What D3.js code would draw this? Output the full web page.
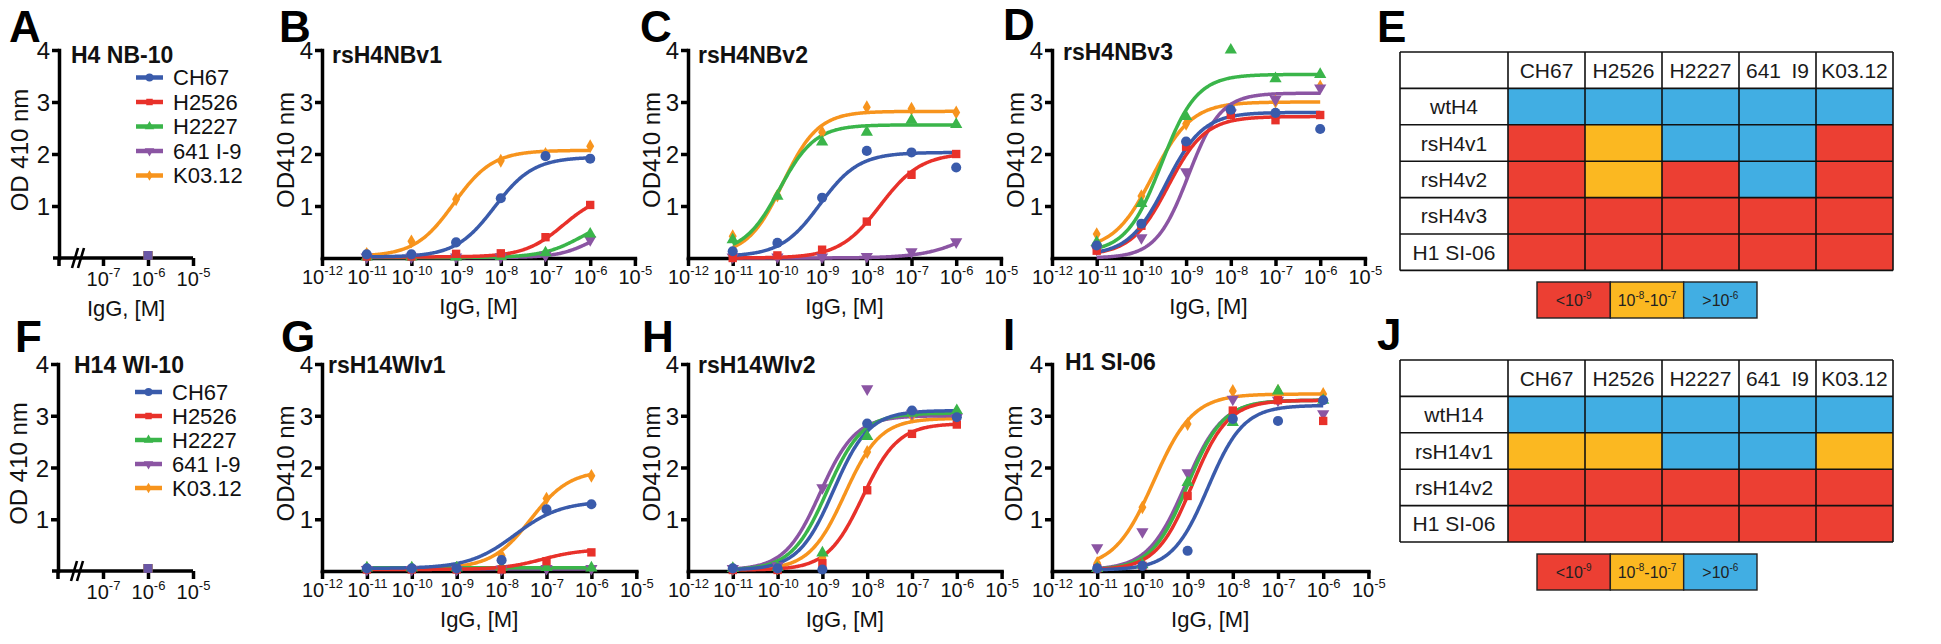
<!DOCTYPE html>
<html><head><meta charset="utf-8">
<script src="https://cdn.jsdelivr.net/npm/d3@7"></script>
<style>
body{margin:0;background:#fff;}
svg{font-family:"Liberation Sans", Arial, Helvetica, sans-serif;}
</style></head><body>
<svg id="chart" width="1941" height="644"></svg>
<script>
// ---------------- DATA ----------------
const antibodies = ["CH67", "H2526", "H2227", "641 I-9", "K03.12"];
const seriesColors = ["#3a5bab", "#e8312a", "#3ab54a", "#8b55a3", "#f7941d"];
const seriesShapes = ["circle", "square", "triangle", "triangleDown", "diamond"];
const logConc = [-11, -10, -9, -8, -7, -6];
const xTickExps = [-12, -11, -10, -9, -8, -7, -6, -5];
const wtTickExps = [-7, -6, -5];
const yTickValues = [1, 2, 3, 4];

// wild-type panels (single concentration 10^-6)
const wtConc = [-6];
const H4NB10_points = [[0.05], [0.05], [0.05], [0.05], [0.05]];
const H14WI10_points = [[0.05], [0.05], [0.05], [0.05], [0.05]];

// OD410 points, rows = antibodies, columns = logConc
const rsH4NBv1_points = [
  [0.07, 0.07, 0.30, 1.15, 1.96, 1.91],
  [0.03, 0.03, 0.08, 0.09, 0.40, 1.02],
  [0.02, 0.02, 0.02, 0.03, 0.10, 0.46],
  [0.02, 0.02, 0.02, 0.02, 0.05, 0.35],
  [0.08, 0.32, 1.13, 1.87, 2.00, 2.15]];
const rsH4NBv2_points = [
  [0.13, 0.29, 1.16, 2.06, 2.03, 1.74],
  [0.00, 0.05, 0.16, 0.70, 1.60, 2.00],
  [0.35, 1.19, 2.23, 2.42, 2.65, 2.57],
  [0.02, 0.02, 0.02, 0.03, 0.12, 0.31],
  [0.42, 1.20, 2.42, 2.90, 2.87, 2.80]];
const rsH4NBv3_points = [
  [0.24, 0.66, 2.24, 2.85, 2.79, 2.48],
  [0.14, 0.62, 2.14, 2.75, 2.65, 2.75],
  [0.30, 1.05, 2.72, 4.00, 3.45, 3.53],
  [0.17, 0.39, 1.66, 2.79, 3.05, 3.27],
  [0.46, 1.19, 2.58, 2.78, 3.01, 3.30]];
const rsH14WIv1_points = [
  [0.05, 0.05, 0.05, 0.21, 1.19, 1.29],
  [0.03, 0.03, 0.03, 0.03, 0.19, 0.36],
  [0.06, 0.06, 0.06, 0.07, 0.07, 0.06],
  [0.03, 0.03, 0.03, 0.04, 0.05, 0.05],
  [0.05, 0.05, 0.05, 0.30, 1.40, 1.84]];
const rsH14WIv2_points = [
  [0.05, 0.05, 0.03, 2.85, 3.10, 2.97],
  [0.02, 0.02, 0.15, 1.56, 2.65, 2.83],
  [0.05, 0.07, 0.35, 2.60, 3.05, 3.10],
  [0.05, 0.10, 1.61, 3.52, 3.05, 2.97],
  [0.04, 0.05, 0.25, 2.30, 3.00, 3.00]];
const H1SI06_points = [
  [0.05, 0.10, 0.39, 2.94, 2.90, 3.30],
  [0.05, 0.10, 1.45, 3.10, 3.30, 2.90],
  [0.05, 0.12, 1.71, 2.87, 3.48, 3.30],
  [0.45, 0.76, 1.90, 3.32, 3.30, 3.04],
  [0.15, 1.23, 2.84, 3.48, 3.48, 3.42]];

// fitted 4-parameter curves: [bottom, top, logEC50, hill]
const rsH4NBv1_fit = [[0.02, 1.94, -8.14, 1.0], [0.02, 1.25, -6.6, 1.0], [0.01, 0.8, -6.2, 1.0], [0.01, 0.6, -6.0, 1.2], [0.03, 2.07, -9.05, 1.0]];
const rsH4NBv2_fit = [[0.03, 2.03, -9.05, 1.0], [0.0, 2.02, -7.7, 0.95], [0.1, 2.56, -9.95, 1.1], [0.0, 1.0, -5.5, 0.8], [0.05, 2.82, -9.88, 1.1]];
const rsH4NBv3_fit = [[0.05, 2.8, -9.45, 1.05], [0.05, 2.72, -9.4, 1.05], [0.1, 3.53, -9.55, 1.1], [0.0, 3.17, -8.95, 1.2], [0.15, 3.0, -9.75, 1.0]];
const rsH14WIv1_fit = [[0.05, 1.35, -7.7, 0.85], [0.03, 0.42, -7.1, 1.0], [0.065, 0.065, -8, 1.0], [0.04, 0.04, -8, 1.0], [0.05, 1.95, -7.35, 1.0]];
const rsH14WIv2_fit = [[0.02, 3.1, -8.75, 1.1], [0.02, 2.85, -8.1, 1.1], [0.02, 3.05, -8.9, 1.1], [0.02, 3.0, -9.05, 1.1], [0.02, 2.95, -8.5, 1.1]];
const H1SI06_fit = [[0.02, 3.2, -8.55, 1.1], [0.02, 3.3, -8.9, 1.1], [0.02, 3.3, -9.0, 1.1], [0.02, 3.3, -9.05, 1.05], [0.05, 3.42, -9.75, 1.0]];

// summary tables
const tableColumns = ["CH67", "H2526", "H2227", "641\u2002I9", "K03.12"];
const tableE_rows = ["wtH4", "rsH4v1", "rsH4v2", "rsH4v3", "H1 SI-06"];
const tableE_class = [[2, 2, 2, 2, 2], [0, 1, 2, 2, 0], [0, 1, 0, 2, 0], [0, 0, 0, 0, 0], [0, 0, 0, 0, 0]];
const tableJ_rows = ["wtH14", "rsH14v1", "rsH14v2", "H1 SI-06"];
const tableJ_class = [[2, 2, 2, 2, 2], [1, 1, 2, 2, 1], [0, 0, 0, 0, 0], [0, 0, 0, 0, 0]];
const keyColors = ["#ec3f33", "#fbb821", "#41aee3"];
const keyLabels = [[["<10", 0], ["-9", 1]], [["10", 0], ["-8", 1], ["-10", 0], ["-7", 1]], [[">10", 0], ["-6", 1]]];

// ---------------- DRAWING ----------------
const svg = d3.select("#chart");
const AXW = 3.5;
const symTypes = {circle: d3.symbolCircle, square: d3.symbolSquare, triangle: d3.symbolTriangle, triangleDown: d3.symbolTriangle, diamond: d3.symbolDiamond};
const symSize = {circle: 80, square: 70, triangle: 65, triangleDown: 65, diamond: 55};

function marker(g, i, cx, cy, scale) {
  const shape = seriesShapes[i];
  g.append("path")
    .attr("d", d3.symbol().type(symTypes[shape]).size(symSize[shape] * (scale || 1))())
    .attr("transform", `translate(${cx},${cy})` + (shape === "triangleDown" ? " rotate(180)" : ""))
    .attr("fill", seriesColors[i]);
}

function styleAxis(sel, fontSize) {
  sel.attr("font-size", null).attr("font-family", null);
  sel.selectAll("path.domain").attr("stroke", "#000").attr("stroke-width", AXW).attr("stroke-linecap", "square");
  sel.selectAll(".tick line").attr("stroke", "#000").attr("stroke-width", AXW);
  sel.selectAll(".tick text").attr("fill", "#111").style("font-size", fontSize + "px");
}

function powLabels(sel, yOff) {
  sel.selectAll(".tick").each(function (d) {
    const t = d3.select(this).append("text").attr("y", yOff).attr("text-anchor", "middle").attr("fill", "#111");
    t.append("tspan").text("10").style("font-size", "20px");
    t.append("tspan").text(String(Math.round(Math.log10(d)))).attr("dy", -9).style("font-size", "13px");
  });
}

function yAxisDraw(g, cfg, y) {
  const ya = g.append("g").attr("transform", `translate(${cfg.axisX},0)`)
    .call(d3.axisLeft(y).tickValues(yTickValues).tickSize(7).tickSizeOuter(0).tickPadding(2).tickFormat(d3.format("d")));
  styleAxis(ya, 24);
  ya.selectAll(".tick text").attr("dy", "0.36em");
  g.append("text").attr("transform", `translate(${cfg.axisX + cfg.ylabOff},${(cfg.yBase + cfg.yTop) / 2 - 4}) rotate(-90)`)
    .attr("text-anchor", "middle").style("font-size", "24px").attr("fill", "#111").text(cfg.ylabel);
}

function labels(g, cfg) {
  g.append("text").attr("x", cfg.letterX).attr("y", cfg.letterY).style("font-size", "44px").style("font-weight", "bold").text(cfg.letter);
  g.append("text").attr("x", cfg.titleX).attr("y", cfg.titleY).style("font-size", "23px").style("font-weight", "bold").attr("fill", "#111").text(cfg.title);
}

function curvePanel(cfg) {
  const g = svg.append("g");
  const x = d3.scaleLog().domain([1e-12, 1e-5]).range([cfg.axisX, cfg.axisX + 7 * cfg.decade]);
  const y = d3.scaleLinear().domain([0, 4]).range([cfg.yBase, cfg.yTop]);
  const xa = g.append("g").attr("transform", `translate(0,${cfg.yBase})`)
    .call(d3.axisBottom(x).tickValues(xTickExps.map(e => Math.pow(10, e))).tickSize(8).tickSizeOuter(0).tickFormat(""));
  styleAxis(xa, 20);
  powLabels(xa, 26);
  yAxisDraw(g, cfg, y);
  if (cfg.xlabel) g.append("text").attr("x", (x.range()[0] + x.range()[1]) / 2).attr("y", cfg.yBase + 56)
    .attr("text-anchor", "middle").style("font-size", "22px").attr("fill", "#111").text("IgG, [M]");
  labels(g, cfg);
  const samples = d3.range(logConc[0], logConc[logConc.length - 1] + 0.001, 0.02);
  const order = [4, 3, 2, 1, 0];
  order.forEach(i => {
    const [b, t, ec, h] = cfg.fits[i];
    const line = d3.line().x(e => x(Math.pow(10, e))).y(e => y(b + (t - b) / (1 + Math.pow(10, h * (ec - e))))).curve(d3.curveLinear);
    g.append("path").attr("d", line(samples)).attr("fill", "none").attr("stroke", seriesColors[i]).attr("stroke-width", 3.5);
  });
  order.forEach(i => {
    cfg.points[i].forEach((v, k) => marker(g, i, x(Math.pow(10, logConc[k])), y(v)));
  });
}

function wtPanel(cfg) {
  const g = svg.append("g");
  const x = d3.scaleLog().domain([1e-7, 1e-5]).range([cfg.x7, cfg.x7 + 2 * cfg.decade]);
  const y = d3.scaleLinear().domain([0, 4]).range([cfg.yBase, cfg.yTop]);
  g.append("line").attr("x1", cfg.axisX - 6).attr("x2", x.range()[1]).attr("y1", cfg.yBase).attr("y2", cfg.yBase)
    .attr("stroke", "#000").attr("stroke-width", AXW);
  g.append("line").attr("x1", cfg.axisX).attr("x2", cfg.axisX).attr("y1", cfg.yBase).attr("y2", cfg.yBase + 8)
    .attr("stroke", "#000").attr("stroke-width", AXW);
  [0, 6].forEach(o => g.append("line").attr("x1", cfg.axisX + 13 + o).attr("x2", cfg.axisX + 19 + o)
    .attr("y1", cfg.yBase + 10).attr("y2", cfg.yBase - 10).attr("stroke", "#000").attr("stroke-width", 2.6));
  const xa = g.append("g").attr("transform", `translate(0,${cfg.yBase})`)
    .call(d3.axisBottom(x).tickValues(wtTickExps.map(e => Math.pow(10, e))).tickSize(8).tickSizeOuter(0).tickFormat(""));
  styleAxis(xa, 20);
  xa.select("path.domain").remove();
  powLabels(xa, 28);
  yAxisDraw(g, cfg, y);
  if (cfg.xlabel) g.append("text").attr("x", (cfg.axisX + x.range()[1]) / 2).attr("y", cfg.yBase + 58)
    .attr("text-anchor", "middle").style("font-size", "22px").attr("fill", "#111").text("IgG, [M]");
  labels(g, cfg);
  // legend
  antibodies.forEach((name, i) => {
    const ly = cfg.legY + i * cfg.legStep;
    g.append("line").attr("x1", cfg.legX).attr("x2", cfg.legX + 27).attr("y1", ly).attr("y2", ly)
      .attr("stroke", seriesColors[i]).attr("stroke-width", 4.5);
    marker(g, i, cfg.legX + 13.5, ly, 0.6);
    g.append("text").attr("x", cfg.legX + 37).attr("y", ly).attr("dy", "0.36em").style("font-size", "22px").attr("fill", "#111").text(name);
  });
  [4, 2, 1, 0, 3].forEach(i => cfg.points[i].forEach((v, k) => {
    g.append("path").attr("d", d3.symbol().type(d3.symbolSquare).size(75)())
      .attr("transform", `translate(${x(Math.pow(10, wtConc[k]))},${y(v)})`).attr("fill", seriesColors[i])
      .attr("fill-opacity", i === 3 ? 0.6 : 1);
  }));
}

function table(rowLabels, cls, top, keyTop, letter, letterY) {
  const g = svg.append("g");
  g.append("text").attr("x", 1377).attr("y", letterY).style("font-size", "44px").style("font-weight", "bold").text(letter);
  const rowH = 36.4;
  const colX = d3.scaleBand().domain(tableColumns).range([1508, 1893]);
  const rowY = d3.scaleBand().domain(["", ...rowLabels]).range([top, top + rowH * (rowLabels.length + 1)]);
  const firstX = 1400;
  g.append("rect").attr("x", firstX).attr("y", rowY("")).attr("width", 1508 - firstX).attr("height", rowY.bandwidth()).attr("fill", "#fff");
  tableColumns.forEach(c => {
    g.append("rect").attr("x", colX(c)).attr("y", rowY("")).attr("width", colX.bandwidth()).attr("height", rowY.bandwidth()).attr("fill", "#fff");
    g.append("text").attr("x", colX(c) + colX.bandwidth() / 2).attr("y", rowY("") + rowY.bandwidth() / 2).attr("dy", "0.36em")
      .attr("text-anchor", "middle").style("font-size", "21px").attr("fill", "#1a1a1a").text(c);
  });
  rowLabels.forEach((r, ri) => {
    g.append("rect").attr("x", firstX).attr("y", rowY(r)).attr("width", 1508 - firstX).attr("height", rowY.bandwidth()).attr("fill", "#fff");
    g.append("text").attr("x", (firstX + 1508) / 2).attr("y", rowY(r) + rowY.bandwidth() / 2).attr("dy", "0.36em")
      .attr("text-anchor", "middle").style("font-size", "21px").attr("fill", "#1a1a1a").text(r);
    tableColumns.forEach((c, ci) => {
      g.append("rect").attr("x", colX(c)).attr("y", rowY(r)).attr("width", colX.bandwidth()).attr("height", rowY.bandwidth())
        .attr("fill", keyColors[cls[ri][ci]]);
    });
  });
  const bottom = rowY.range()[1];
  [firstX, ...tableColumns.map(c => colX(c)), 1893].forEach(xv =>
    g.append("line").attr("x1", xv).attr("x2", xv).attr("y1", top).attr("y2", bottom).attr("stroke", "#111").attr("stroke-width", 1.6));
  ["", ...rowLabels].forEach(r =>
    g.append("line").attr("x1", firstX).attr("x2", 1893).attr("y1", rowY(r)).attr("y2", rowY(r)).attr("stroke", "#111").attr("stroke-width", 1.6));
  g.append("line").attr("x1", firstX).attr("x2", 1893).attr("y1", bottom).attr("y2", bottom).attr("stroke", "#111").attr("stroke-width", 1.6);
  const kx = d3.scaleBand().domain([0, 1, 2]).range([1537, 1757]);
  keyColors.forEach((col, k) => {
    g.append("rect").attr("x", kx(k)).attr("y", keyTop).attr("width", kx.bandwidth()).attr("height", 36)
      .attr("fill", col).attr("stroke", "#222").attr("stroke-width", 1.4);
    const t = g.append("text").attr("x", kx(k) + kx.bandwidth() / 2).attr("y", keyTop + 24).attr("text-anchor", "middle").attr("fill", "#222");
    let prevSup = false;
    keyLabels[k].forEach(([txt, sup]) => {
      const ts = t.append("tspan").text(txt).style("font-size", sup ? "10px" : "16px");
      if (sup && !prevSup) ts.attr("dy", -7);
      if (!sup && prevSup) ts.attr("dy", 7);
      prevSup = !!sup;
    });
  });
}

// ---------------- LAYOUT ----------------
const TOP = {yBase: 258, yTop: 50};
const BOT = {yBase: 571, yTop: 364};

wtPanel(Object.assign({}, TOP, {axisX: 59, x7: 103, decade: 45, points: H4NB10_points, title: "H4 NB-10", titleX: 71, titleY: 63,
  letter: "A", letterX: 9, letterY: 42, ylabel: "OD 410 nm", ylabOff: -31, xlabel: true, legX: 136, legY: 77.5, legStep: 24.5}));
wtPanel(Object.assign({}, BOT, {axisX: 58, x7: 103, decade: 45, points: H14WI10_points, title: "H14 WI-10", titleX: 74, titleY: 373,
  letter: "F", letterX: 15, letterY: 352, ylabel: "OD 410 nm", ylabOff: -31, xlabel: false, legX: 135, legY: 392, legStep: 24}));

curvePanel(Object.assign({}, TOP, {axisX: 322, decade: 44.7, points: rsH4NBv1_points, fits: rsH4NBv1_fit, title: "rsH4NBv1", titleX: 332, titleY: 63,
  letter: "B", letterX: 279, letterY: 42, ylabel: "OD410 nm", ylabOff: -28, xlabel: true}));
curvePanel(Object.assign({}, TOP, {axisX: 688, decade: 44.7, points: rsH4NBv2_points, fits: rsH4NBv2_fit, title: "rsH4NBv2", titleX: 698, titleY: 63,
  letter: "C", letterX: 640, letterY: 42, ylabel: "OD410 nm", ylabOff: -28, xlabel: true}));
curvePanel(Object.assign({}, TOP, {axisX: 1052, decade: 44.7, points: rsH4NBv3_points, fits: rsH4NBv3_fit, title: "rsH4NBv3", titleX: 1063, titleY: 60,
  letter: "D", letterX: 1003, letterY: 40, ylabel: "OD410 nm", ylabOff: -28, xlabel: true}));
curvePanel(Object.assign({}, BOT, {axisX: 322, decade: 44.9, points: rsH14WIv1_points, fits: rsH14WIv1_fit, title: "rsH14WIv1", titleX: 328, titleY: 373,
  letter: "G", letterX: 281, letterY: 352, ylabel: "OD410 nm", ylabOff: -28, xlabel: true}));
curvePanel(Object.assign({}, BOT, {axisX: 688, decade: 44.8, points: rsH14WIv2_points, fits: rsH14WIv2_fit, title: "rsH14WIv2", titleX: 698, titleY: 373,
  letter: "H", letterX: 642, letterY: 352, ylabel: "OD410 nm", ylabOff: -28, xlabel: true}));
curvePanel(Object.assign({}, BOT, {axisX: 1052, decade: 45.2, points: H1SI06_points, fits: H1SI06_fit, title: "H1 SI-06", titleX: 1065, titleY: 370,
  letter: "I", letterX: 1003, letterY: 350, ylabel: "OD410 nm", ylabOff: -30, xlabel: true}));

table(tableE_rows, tableE_class, 52, 282, "E", 42);
table(tableJ_rows, tableJ_class, 360, 554, "J", 350);
</script>
</body></html>
